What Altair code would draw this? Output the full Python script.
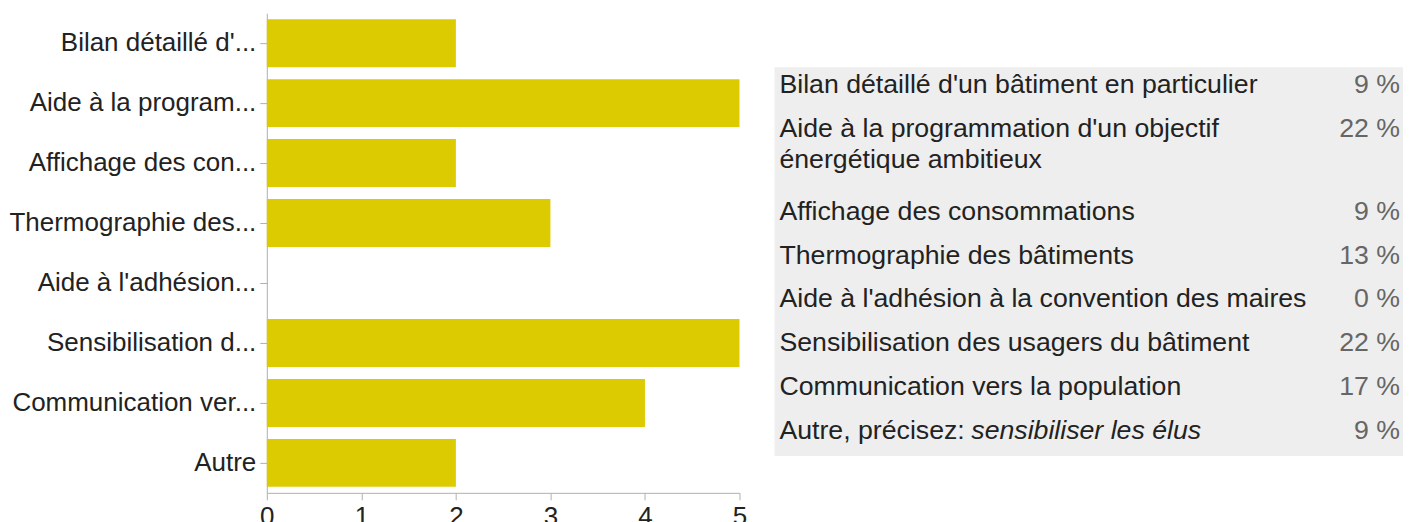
import altair as alt
import pandas as pd

# ---- data ----
axis_labels = [
    "Bilan détaillé d'...",
    "Aide à la program...",
    "Affichage des con...",
    "Thermographie des...",
    "Aide à l'adhésion...",
    "Sensibilisation d...",
    "Communication ver...",
    "Autre",
]
counts = [2, 5, 2, 3, 0, 5, 4, 2]
x_ticks = [0, 1, 2, 3, 4, 5]

table_labels = [
    "Bilan détaillé d'un bâtiment en particulier",
    "Aide à la programmation d'un objectif\nénergétique ambitieux",
    "Affichage des consommations",
    "Thermographie des bâtiments",
    "Aide à l'adhésion à la convention des maires",
    "Sensibilisation des usagers du bâtiment",
    "Communication vers la population",
    "Autre, précisez: ",
]
other_detail = ["sensibiliser les élus"]
percents = [9, 22, 9, 13, 0, 22, 17, 9]

FONT = "Liberation Sans"
BAR_COLOR = "#dccb00"
AXIS_GREY = "#b0b0b0"

# ---- bar chart ----
df_bars = pd.DataFrame({"label": axis_labels, "count": counts})

bars = alt.Chart(df_bars).mark_bar(color=BAR_COLOR).encode(
    y=alt.Y(
        "label:N",
        sort=axis_labels,
        scale=alt.Scale(paddingInner=0.2, paddingOuter=0.1),
        axis=alt.Axis(
            title=None,
            labelFont=FONT,
            labelFontSize=26,
            labelColor="#222222",
            labelLimit=400,
            labelPadding=4,
            tickSize=7,
            tickColor=AXIS_GREY,
            domainColor=AXIS_GREY,
            minExtent=258,
            maxExtent=258,
        ),
    ),
    x=alt.X(
        "count:Q",
        scale=alt.Scale(domain=[0, 5], nice=False),
        axis=alt.Axis(
            title=None,
            values=x_ticks,
            format="d",
            grid=False,
            labelFlush=False,
            labelFont=FONT,
            labelFontSize=26,
            labelColor="#222222",
            labelPadding=4,
            tickSize=7,
            tickColor=AXIS_GREY,
            domainColor=AXIS_GREY,
        ),
    ),
).properties(width=473, height=480)

# ---- table (answers with percentages) ----
ROW_GAP_EXTRA = 0.88  # extra row units taken by each wrapped line
pos = []
extra = 0.0
for i, lab in enumerate(table_labels):
    pos.append(i + extra)
    extra += ROW_GAP_EXTRA * lab.count("\n")

df_tab = pd.DataFrame({
    "label": table_labels,
    "pct": [f"{p} %" for p in percents],
    "pos": pos,
})
df_other = pd.DataFrame({"detail": other_detail, "pos": [pos[-1]]})
df_bg = pd.DataFrame({"top": [pos[0] - 0.41], "bottom": [pos[-1] + 0.57]})

W_TAB = 629
TEXT_SIZE = 26.7
y_scale = alt.Scale(domain=[-1.645, 9.29], reverse=True)

bg = alt.Chart(df_bg).mark_rect(color="#eeeeee").encode(
    y=alt.Y("top:Q", scale=y_scale, axis=None),
    y2="bottom:Q",
    x=alt.value(0),
    x2=alt.value(W_TAB),
)

labels = alt.Chart(df_tab).mark_text(
    align="left", baseline="middle", font=FONT, fontSize=TEXT_SIZE,
    color="#222222", lineBreak="\n", lineHeight=31,
).encode(
    x=alt.value(5),
    y=alt.Y("pos:Q", scale=y_scale, axis=None),
    text="label:N",
)

details = alt.Chart(df_other).mark_text(
    align="left", baseline="middle", font=FONT, fontSize=TEXT_SIZE,
    fontStyle="italic", color="#222222",
).encode(
    x=alt.value(197),
    y=alt.Y("pos:Q", scale=y_scale, axis=None),
    text="detail:N",
)

pcts = alt.Chart(df_tab).mark_text(
    align="right", baseline="middle", font=FONT, fontSize=TEXT_SIZE, color="#666666",
).encode(
    x=alt.value(W_TAB - 3),
    y=alt.Y("pos:Q", scale=y_scale, axis=None),
    text="pct:N",
)

table = alt.layer(bg, labels, details, pcts).properties(width=W_TAB, height=480)

chart = alt.hconcat(bars, table, spacing=27).properties(
    padding={"left": 0, "top": 5, "right": 0, "bottom": 0}
).configure_view(stroke=None)

chart.save("out.html", embed_options={"renderer": "svg", "actions": False})
